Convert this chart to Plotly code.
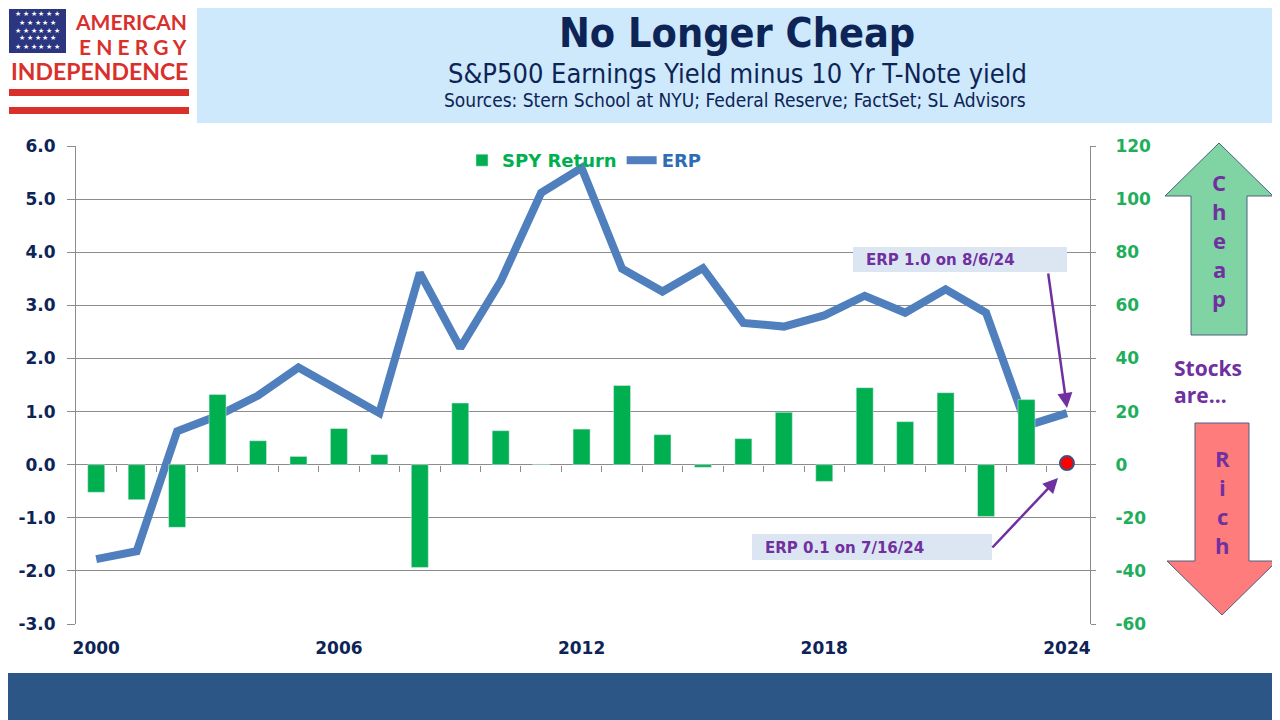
import plotly.graph_objects as go

# ---- data ----
years = list(range(2000, 2025))

# SPY total return, % (right axis); no bar for 2024
spy_return = [-10.4, -13.2, -23.6, 26.4, 9.0, 3.1, 13.6, 3.8, -38.7, 23.2,
              12.8, 0.2, 13.4, 29.8, 11.3, -1.0, 9.8, 19.7, -6.3, 29.0,
              16.2, 27.1, -19.5, 24.5, None]

# equity risk premium (left axis)
erp = [-1.78, -1.63, 0.63, 0.92, 1.30, 1.83, 1.40, 0.97, 3.61, 2.20,
       3.45, 5.12, 5.59, 3.69, 3.26, 3.70, 2.67, 2.60, 2.81, 3.18,
       2.86, 3.30, 2.86, 0.73, 0.97]

low_year = [2024]
low_erp = [0.03]

xtick_years = [2000, 2006, 2012, 2018, 2024]
left_ticks = [-3, -2, -1, 0, 1, 2, 3, 4, 5, 6]
right_ticks = [-60, -40, -20, 0, 20, 40, 60, 80, 100, 120]

NAVY = "#0d2456"
GREEN = "#00b050"
BLUE = "#4f7fbd"
PURPLE = "#7030a0"
RED = "#d9302c"
GRID = "#8c8c8c"
COND = "DejaVu Sans Condensed, DejaVu Sans"

# the page puts the figure 8px in from the top-left corner, so
# screen pixels are shifted back by that much
OFF = 8


def px(x):
    return (x - OFF) / 1280


def py(y):
    return 1 - (y - OFF) / 720


fig = go.Figure()

fig.add_trace(go.Bar(
    x=years, y=spy_return, name="<b><span style='color:%s'>SPY Return</span></b>" % GREEN,
    marker=dict(color=GREEN), width=0.42, yaxis="y2"))

fig.add_trace(go.Scatter(
    x=years, y=erp, name="<b><span style='color:%s'>ERP</span></b>" % "#2e6db4",
    mode="lines", line=dict(color=BLUE, width=8)))

fig.add_trace(go.Scatter(
    x=low_year, y=low_erp, mode="markers", showlegend=False,
    marker=dict(color="#ff0000", size=14, line=dict(color="#3f4f7f", width=2))))

# dummy trace so the zero-line ticks axis exists
fig.add_trace(go.Scatter(x=years, y=[None] * len(years), xaxis="x2", showlegend=False,
                         hoverinfo="skip"))

shapes = []
# top banner and bottom band
shapes.append(dict(type="rect", xref="paper", yref="paper", x0=px(197), x1=1.02,
                   y0=py(123), y1=1.02, fillcolor="#cde9fb", line=dict(width=0), layer="below"))
shapes.append(dict(type="rect", xref="paper", yref="paper", x0=-0.02, x1=1.02,
                   y0=-0.02, y1=py(673), fillcolor="#2b5686", line=dict(width=0), layer="below"))

# logo: flag + stripes
shapes.append(dict(type="rect", xref="paper", yref="paper", x0=px(9), x1=px(66),
                   y0=py(53), y1=py(9), fillcolor="#2b3580", line=dict(width=0)))
for y0, y1 in [(89, 96), (107, 114)]:
    shapes.append(dict(type="rect", xref="paper", yref="paper", x0=px(9), x1=px(189),
                       y0=py(y1), y1=py(y0), fillcolor=RED, line=dict(width=0)))


def arrow_path(pts):
    return "M " + " L ".join("%.5f,%.5f" % (px(a), py(b)) for a, b in pts) + " Z"


# Cheap (up) arrow
shapes.append(dict(type="path", xref="paper", yref="paper",
                   path=arrow_path([(1191, 335), (1191, 196), (1165, 196), (1219, 143),
                                    (1273, 196), (1247, 196), (1247, 335)]),
                   fillcolor="#80d4a4", line=dict(color="#4a6080", width=1)))
# Rich (down) arrow
shapes.append(dict(type="path", xref="paper", yref="paper",
                   path=arrow_path([(1195, 423), (1249, 423), (1249, 561), (1277, 561),
                                    (1222, 615), (1167, 561), (1195, 561)]),
                   fillcolor="#ff7c7c", line=dict(color="#4a6080", width=1)))

# callout boxes
shapes.append(dict(type="rect", xref="paper", yref="paper", x0=px(853), x1=px(1067),
                   y0=py(272), y1=py(247), fillcolor="#dce6f2", line=dict(width=0)))
shapes.append(dict(type="rect", xref="paper", yref="paper", x0=px(752), x1=px(992),
                   y0=py(560), y1=py(534), fillcolor="#dce6f2", line=dict(width=0)))

ann = []


def text(t, x, y, font, xanchor="center", align="center"):
    ann.append(dict(text=t, x=px(x), y=py(y), xref="paper", yref="paper",
                    xanchor=xanchor, yanchor="middle", align=align,
                    showarrow=False, font=font))


text("<b>No Longer Cheap</b>", 737, 33, dict(family=COND, size=41, color=NAVY))
text("S&P500 Earnings Yield minus 10 Yr T-Note yield", 737, 73,
     dict(family=COND, size=27, color=NAVY))
text("Sources: Stern School at NYU; Federal Reserve; FactSet; SL Advisors", 735, 100,
     dict(family=COND, size=19, color=NAVY))

# logo text
text("<b>AMERICAN</b>", 189, 21, dict(family="Lato, Open Sans", size=21, color=RED),
     xanchor="right")
text("<b>E N E R G Y</b>", 189, 46, dict(family="Lato, Open Sans", size=21, color=RED),
     xanchor="right")
text("<b>INDEPENDENCE</b>", 99, 71, dict(family="Lato, Open Sans", size=23, color=RED))
for i, yy in enumerate([14, 22, 30, 38, 46]):
    row = "★ ★ ★ ★ ★ ★" if i % 2 == 0 else "★ ★ ★ ★ ★"
    text(row, 37.5, yy, dict(size=7, color="white"))

# right side labels
side_font = dict(family="Open Sans, DejaVu Sans", size=22, color=PURPLE)
for letter, yy in zip("Cheap", [182, 211, 240, 269, 298]):
    text("<b>%s</b>" % letter, 1219, yy, side_font)
for letter, yy in zip("Rich", [458, 487, 516, 545]):
    text("<b>%s</b>" % letter, 1222, yy, side_font)
text("<b>Stocks<br>are…</b>", 1172, 381, dict(family="Open Sans, DejaVu Sans", size=21,
                                               color=PURPLE), xanchor="left", align="left")

# callouts
call_font = dict(family="DejaVu Sans", size=15, color=PURPLE)
text("<b>ERP 1.0 on 8/6/24</b>", 864, 260, call_font, xanchor="left")
text("<b>ERP 0.1 on 7/16/24</b>", 763, 548, call_font, xanchor="left")
ann.append(dict(text="", x=px(1067), y=py(408), xref="paper", yref="paper",
                ax=-19, ay=-136, showarrow=True, arrowhead=2, arrowsize=1.2,
                arrowwidth=2.5, arrowcolor=PURPLE))
ann.append(dict(text="", x=px(1058), y=py(478), xref="paper", yref="paper",
                ax=-67, ay=71, showarrow=True, arrowhead=2, arrowsize=1.2,
                arrowwidth=2.5, arrowcolor=PURPLE))

axis_font = dict(family="DejaVu Sans", size=17, color=NAVY)

fig.update_layout(
    width=1280, height=720,
    margin=dict(l=0, r=0, t=0, b=0, autoexpand=False),
    paper_bgcolor="white", plot_bgcolor="white",
    barmode="overlay",
    shapes=shapes, annotations=ann,
    showlegend=True,
    legend=dict(orientation="h", x=px(462), y=py(142), xanchor="left", yanchor="top",
                bgcolor="rgba(0,0,0,0)", font=dict(family="DejaVu Sans", size=18),
                itemwidth=30, tracegroupgap=0),
    xaxis=dict(domain=[px(76), px(1090)], range=[1999.5, 2024.57], automargin=False,
               tickvals=xtick_years, ticktext=["<b>%d</b>" % y for y in xtick_years],
               ticks="", showgrid=False, zeroline=False, showline=False,
               tickfont=axis_font, ticklabelstandoff=12),
    xaxis2=dict(overlaying="x", anchor="free", position=py(465), range=[1999.5, 2024.57],
                tickvals=[y + 0.5 for y in years[:-1]], ticks="outside", ticklen=6,
                tickcolor=GRID, showticklabels=False, showgrid=False, zeroline=False,
                showline=False, automargin=False),
    yaxis=dict(domain=[py(624), py(146)], range=[-3, 6], automargin=False,
               tickvals=left_ticks, ticktext=["<b>%.1f</b>" % v for v in left_ticks],
               showgrid=True, gridcolor=GRID, gridwidth=1,
               zeroline=True, zerolinecolor=GRID, zerolinewidth=1,
               showline=True, linecolor=GRID, ticks="outside", ticklen=8, tickcolor=GRID,
               tickfont=axis_font, ticklabelstandoff=8),
    yaxis2=dict(overlaying="y", side="right", anchor="x", range=[-60, 120], automargin=False,
                tickvals=right_ticks, ticktext=["<b>%d</b>" % v for v in right_ticks],
                showgrid=False, zeroline=False, showline=True, linecolor=GRID,
                ticks="outside", ticklen=5, tickcolor=GRID,
                tickfont=dict(family="DejaVu Sans", size=17, color="#1fae5b"),
                ticklabelstandoff=16),
)

fig.write_html("out.html")
